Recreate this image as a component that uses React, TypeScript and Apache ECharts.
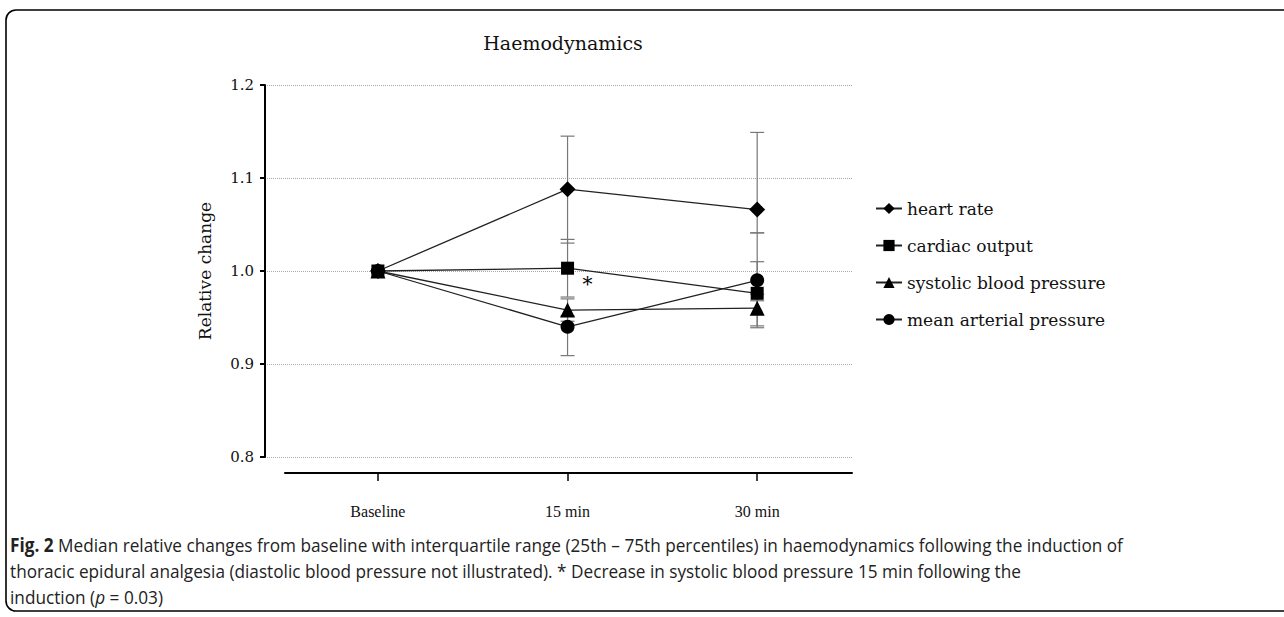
import React, { useEffect, useRef } from "react";
import * as echarts from "echarts";

const categories = ["Baseline", "15 min", "30 min"];
const seriesNames = ["heart rate", "cardiac output", "systolic blood pressure", "mean arterial pressure"];
const symbols = ["diamond", "rect", "triangle", "circle"];
const symbolSizes = [16, 13, 15, 14];

const heartRate = [1.0, 1.088, 1.066];
const heartRateQ1 = [1.0, 1.03, 1.041];
const heartRateQ3 = [1.0, 1.145, 1.149];

const cardiacOutput = [1.0, 1.003, 0.976];
const cardiacOutputQ1 = [1.0, 0.972, 0.941];
const cardiacOutputQ3 = [1.0, 1.034, 1.01];

const systolicBP = [1.0, 0.958, 0.96];
const systolicBPQ1 = [1.0, 0.946, 0.939];
const systolicBPQ3 = [1.0, 0.97, 0.975];

const meanArterial = [1.0, 0.94, 0.99];
const meanArterialQ1 = [1.0, 0.909, 0.968];
const meanArterialQ3 = [1.0, 0.952, 1.041];

const yMin = 0.8;
const yMax = 1.2;
const yStep = 0.1;

const medians = [heartRate, cardiacOutput, systolicBP, meanArterial];
const q1s = [heartRateQ1, cardiacOutputQ1, systolicBPQ1, meanArterialQ1];
const q3s = [heartRateQ3, cardiacOutputQ3, systolicBPQ3, meanArterialQ3];

const SERIF = "'DejaVu Serif', serif";
const TIMES = "'Liberation Serif', serif";
const SANS = "'Open Sans', sans-serif";

export default function App() {
  const ref = useRef<HTMLDivElement>(null);
  useEffect(() => {
    if (!ref.current) return;
    const chart = echarts.init(ref.current, undefined, { renderer: "svg" });

    const errData: any[] = [];
    medians.forEach((_, s) => {
      categories.forEach((_, i) => {
        if (q1s[s][i] !== q3s[s][i]) errData.push([i, q1s[s][i], q3s[s][i]]);
      });
    });

    const lineSeries: any[] = seriesNames.map((name, s) => ({
      name,
      type: "line",
      xAxisIndex: 0,
      yAxisIndex: 0,
      data: medians[s].map((v, i) => [i, v]),
      symbol: symbols[s],
      symbolSize: symbolSizes[s],
      showSymbol: true,
      z: 5,
      lineStyle: { color: "#222", width: 1.3 },
      itemStyle: { color: "#000" },
      markPoint:
        s === 2
          ? {
              symbol: "circle",
              symbolSize: 0,
              data: [{ coord: [1, systolicBP[1]] }],
              label: {
                show: true,
                formatter: "*",
                fontFamily: SERIF,
                fontSize: 20,
                color: "#000",
                offset: [20, -26],
              },
            }
          : undefined,
    }));

    const option: any = {
      animation: false,
      backgroundColor: "#fff",
      title: {
        text: "Haemodynamics",
        left: 558,
        textAlign: "center",
        top: 28,
        textStyle: { fontFamily: SERIF, fontWeight: "normal", fontSize: 19, color: "#111" },
      },
      grid: [
        { left: 285, right: 432, top: 85, bottom: 160 },
        { left: 265, right: 432, top: 85, bottom: 160 },
      ],
      legend: {
        orient: "vertical",
        left: 870,
        top: 195,
        itemWidth: 26,
        itemHeight: 14,
        itemGap: 20,
        data: seriesNames,
        textStyle: { fontFamily: SERIF, fontSize: 17, color: "#111" },
      },
      xAxis: [
        {
          type: "value",
          gridIndex: 0,
          min: -0.49,
          max: 2.5,
          offset: 16,
          splitLine: { show: false },
          axisLine: { show: true, onZero: false, lineStyle: { color: "#000", width: 2 } },
          axisTick: { show: true, length: 8, customValues: [0, 1, 2], lineStyle: { color: "#000", width: 1.5 } },
          axisLabel: {
            customValues: [0, 1, 2],
            formatter: (v: number) => categories[Math.round(v)] ?? "",
            margin: 30,
            fontFamily: TIMES,
            fontSize: 16,
            color: "#111",
          },
        },
        {
          type: "value",
          gridIndex: 1,
          min: 0,
          max: 1,
          show: false,
        },
      ],
      yAxis: [
        {
          type: "value",
          gridIndex: 0,
          min: yMin,
          max: yMax,
          interval: yStep,
          show: false,
          splitLine: { show: false },
        },
        {
          type: "value",
          gridIndex: 1,
          min: yMin,
          max: yMax,
          interval: yStep,
          name: "Relative change",
          nameLocation: "middle",
          nameGap: 52,
          nameTextStyle: { fontFamily: SERIF, fontSize: 17, color: "#111" },
          axisLine: { show: true, onZero: false, lineStyle: { color: "#000", width: 2 } },
          axisTick: { show: true, length: 5, lineStyle: { color: "#000", width: 2 } },
          axisLabel: {
            formatter: (v: number) => v.toFixed(1),
            margin: 11,
            fontFamily: SERIF,
            fontSize: 15,
            color: "#111",
          },
          splitLine: { show: true, lineStyle: { color: "#aaa", type: "dotted", width: 1 } },
        },
      ],
      series: [
        {
          type: "custom",
          name: "iqr",
          xAxisIndex: 0,
          yAxisIndex: 0,
          z: 2,
          data: errData,
          renderItem: (params: any, api: any) => {
            const x = api.value(0);
            const lo = api.coord([x, api.value(1)]);
            const hi = api.coord([x, api.value(2)]);
            const w = 7;
            const style = { stroke: "#777", lineWidth: 1.2 };
            return {
              type: "group",
              children: [
                { type: "line", shape: { x1: lo[0], y1: lo[1], x2: hi[0], y2: hi[1] }, style },
                { type: "line", shape: { x1: lo[0] - w, y1: lo[1], x2: lo[0] + w, y2: lo[1] }, style },
                { type: "line", shape: { x1: hi[0] - w, y1: hi[1], x2: hi[0] + w, y2: hi[1] }, style },
              ],
            };
          },
        },
        ...lineSeries,
      ],
      graphic: [
        {
          type: "rect",
          shape: { x: 6, y: 10, width: 1300, height: 601, r: 10 },
          style: { fill: "none", stroke: "#000", lineWidth: 1.6 },
          silent: true,
        },
        {
          type: "text",
          x: 10,
          y: 532,
          scaleX: 0.906,
          style: {
            text:
              "{b|Fig. 2} Median relative changes from baseline with interquartile range (25th – 75th percentiles) in haemodynamics following the induction of\n" +
              "thoracic epidural analgesia (diastolic blood pressure not illustrated). * Decrease in systolic blood pressure 15 min following the\n" +
              "induction ({i|p} = 0.03)",
            fontFamily: SANS,
            fontSize: 19,
            lineHeight: 26,
            fill: "#222",
            rich: {
              b: { fontFamily: SANS, fontSize: 19, fontWeight: "bold", fill: "#222", lineHeight: 26 },
              i: { fontFamily: SANS, fontSize: 19, fontStyle: "italic", fill: "#222", lineHeight: 26 },
            },
          },
        },
      ],
    };
    chart.setOption(option);
    return () => chart.dispose();
  }, []);
  return <div ref={ref} style={{ position: "absolute", left: 0, top: 0, width: 1284, height: 617 }} />;
}
